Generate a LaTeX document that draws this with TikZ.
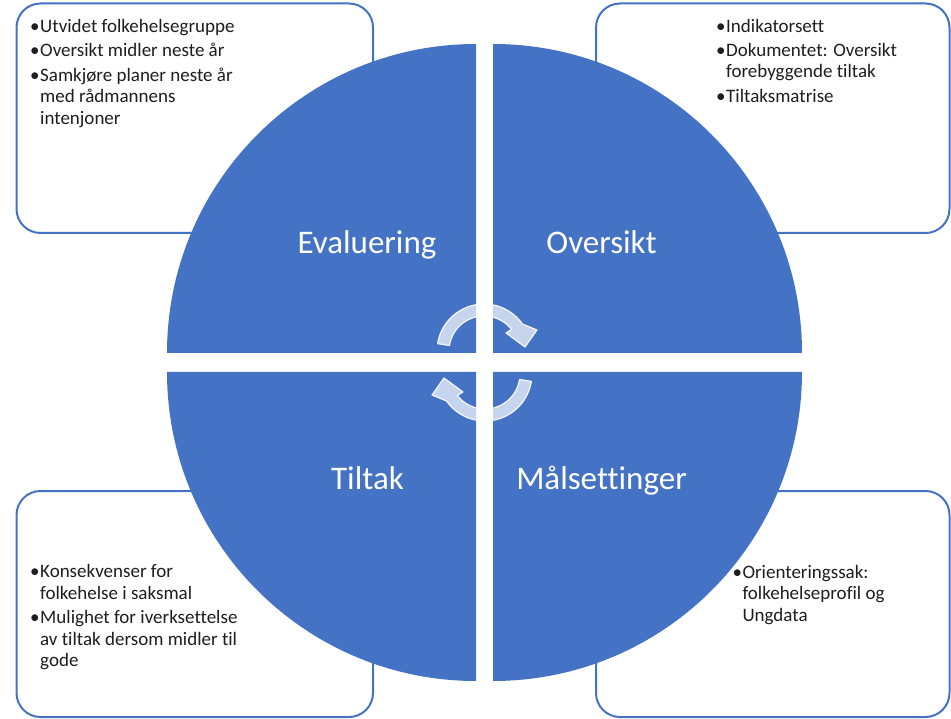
\documentclass[tikz,border=0pt]{standalone}
\usepackage{fontspec}
\setmainfont{Carlito}[Ligatures=CommonOff]
\definecolor{obl}{HTML}{4472C4}
\definecolor{txt}{HTML}{1E1E1E}
\newcommand{\bulx}{\makebox[10pt][l]{•}}
\begin{document}
\begin{tikzpicture}[x=1pt,y=-1pt,
  box/.style={draw=obl,line width=2pt,rounded corners=24pt,fill=white},
  quad/.style={fill=obl},
  lbl/.style={text=white,font=\fontsize{33}{40}\selectfont,anchor=base,inner sep=0pt},
  ln/.style={text=txt,font=\fontsize{19}{22}\selectfont,anchor=base west,inner sep=0pt},
  cyc/.style={fill=white,fill opacity=0.7,draw=white,draw opacity=0.9,line width=1.2pt,line join=round}]
\useasboundingbox (0,0) rectangle (951,719);
% corner boxes
\draw[box] (16.5,3.5) rectangle (373,233);
\draw[box] (596,3.5) rectangle (949.5,233);
\draw[box] (16.5,491) rectangle (373,717);
\draw[box] (596,491) rectangle (949.5,717);
% quadrants
\fill[quad] (476,353) -- (167,353) arc[start angle=180,end angle=270,radius=309] -- cycle;
\fill[quad] (493,353) -- (493,44) arc[start angle=270,end angle=360,radius=309] -- cycle;
\fill[quad] (493,372) -- (802,372) arc[start angle=0,end angle=90,radius=309] -- cycle;
\fill[quad] (476,372) -- (476,681) arc[start angle=90,end angle=180,radius=309] -- cycle;
% labels
\node[lbl] (ev) at (367,254) {Evaluering};
\node[lbl] (ov) at (601.5,254) {Oversikt};
\node[lbl] (ti) at (367.5,489.5) {Tiltak};
\node[lbl] (ma) at (601.5,489.5) {Målsettinger};
% cycle arrows
\path[cyc] (437.6,343.65) arc[start angle=189,end angle=325,radius=47] -- (537,330) -- (525,347) -- (506,333) -- (511.6,329.45) arc[start angle=322,end angle=189,radius=35] -- cycle;
\begin{scope}[rotate around={180:(484.5,362.5)}]
\path[cyc] (437.6,343.65) arc[start angle=189,end angle=325,radius=47] -- (537,330) -- (525,347) -- (506,333) -- (511.6,329.45) arc[start angle=322,end angle=189,radius=35] -- cycle;
\end{scope}
% top-left text
\node[ln] (tl1) at (30,32.5) {\bulx Utvidet folkehelsegruppe};
\node[ln] (tl2) at (30,56.5) {\bulx Oversikt midler neste år};
\node[ln] (tl3) at (30,81.5) {\bulx Samkjøre planer neste år};
\node[ln] (tl4) at (40,103) {med rådmannens};
\node[ln] (tl5) at (40,124.5) {intenjoner};
% top-right text
\node[ln] (tr1) at (716,32.5) {\bulx Indikatorsett};
\node[ln] (tr2) at (716,56.5) {\bulx Dokumentet: Oversikt};
\node[ln] (tr3) at (726,78) {forebyggende tiltak};
\node[ln] (tr4) at (716,102.5) {\bulx Tiltaksmatrise};
% bottom-left text
\node[ln] (bl1) at (30,577.5) {\bulx Konsekvenser for};
\node[ln] (bl2) at (40,599) {folkehelse i saksmal};
\node[ln] (bl3) at (30,623.5) {\bulx Mulighet for iverksettelse};
\node[ln] (bl4) at (40,645) {av tiltak dersom midler til};
\node[ln] (bl5) at (40,666.5) {gode};
% bottom-right text
\node[ln] (br1) at (732.3,578.3) {\bulx Orienteringssak:};
\node[ln] (br2) at (742.3,599.8) {folkehelseprofil og};
\node[ln] (br3) at (742.3,621.3) {Ungdata};
\end{tikzpicture}
\end{document}
